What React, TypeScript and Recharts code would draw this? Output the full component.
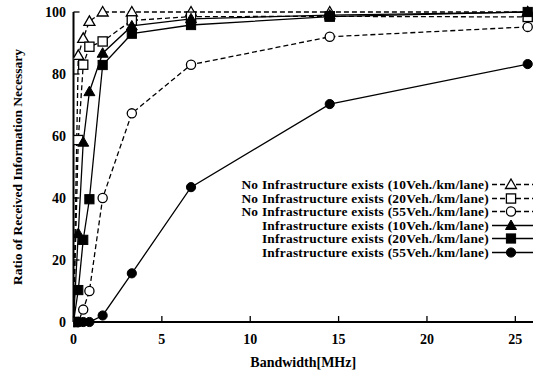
import React from 'react';
import { LineChart, Line, XAxis, YAxis, Legend, Label } from 'recharts';

// bandwidth values [MHz] shared by all six curves
const bandwidth = [0, 0.27, 0.55, 0.9, 1.65, 3.3, 6.65, 14.5, 25.7];

const noInfra10 = [0, 86, 91.5, 97, 100, 100, 100, 100, 100];
const noInfra20 = [0, 58.7, 83, 88.8, 90.5, 97.3, 98.5, 98.6, 98.4];
const noInfra55 = [0, 0, 4, 10, 40, 67.3, 83, 92, 95.2];
const infra10 = [0, 28.5, 58, 74.3, 86.7, 95.5, 97.8, 99, 100];
const infra20 = [0, 10.3, 26.5, 39.6, 82.9, 93, 95.8, 98.5, 100];
const infra55 = [0, 0, 0, 0, 2.1, 15.7, 43.5, 70.3, 83.2];

const xTicks = [0, 5, 10, 15, 20, 25];
const yTicks = [0, 20, 40, 60, 80, 100];

type Shape = 'triangle' | 'square' | 'circle';

const series: { key: string; name: string; dashed: boolean; shape: Shape; filled: boolean }[] = [
  { key: 'noInfra10', name: 'No Infrastructure exists (10Veh./km/lane)', dashed: true, shape: 'triangle', filled: false },
  { key: 'noInfra20', name: 'No Infrastructure exists (20Veh./km/lane)', dashed: true, shape: 'square', filled: false },
  { key: 'noInfra55', name: 'No Infrastructure exists (55Veh./km/lane)', dashed: true, shape: 'circle', filled: false },
  { key: 'infra10', name: 'Infrastructure exists (10Veh./km/lane)', dashed: false, shape: 'triangle', filled: true },
  { key: 'infra20', name: 'Infrastructure exists (20Veh./km/lane)', dashed: false, shape: 'square', filled: true },
  { key: 'infra55', name: 'Infrastructure exists (55Veh./km/lane)', dashed: false, shape: 'circle', filled: true },
];

const rows = bandwidth.map((bw, i) => ({
  bw,
  noInfra10: noInfra10[i],
  noInfra20: noInfra20[i],
  noInfra55: noInfra55[i],
  infra10: infra10[i],
  infra20: infra20[i],
  infra55: infra55[i],
}));

const FONT = '"Liberation Serif", "Times New Roman", serif';
const DASH = '5 3';

function Marker({ cx, cy, shape, filled }: { cx: number; cy: number; shape: Shape; filled: boolean }) {
  const fill = filled ? '#000' : '#fff';
  const sw = filled ? 1 : 1.3;
  if (shape === 'triangle') {
    const pts = `${cx},${cy - 5.5} ${cx + 5.5},${cy + 4} ${cx - 5.5},${cy + 4}`;
    return <polygon points={pts} fill={fill} stroke="#000" strokeWidth={sw} />;
  }
  if (shape === 'square') {
    return <rect x={cx - 4.6} y={cy - 4.6} width={9.2} height={9.2} fill={fill} stroke="#000" strokeWidth={sw} />;
  }
  return <circle cx={cx} cy={cy} r={4.6} fill={fill} stroke="#000" strokeWidth={sw} />;
}

function LegendBox() {
  return (
    <div style={{ fontFamily: FONT, fontWeight: 'bold', fontSize: 13.4, letterSpacing: 0.25, color: '#000' }}>
      {series.map((s) => (
        <div
          key={s.key}
          style={{ display: 'flex', justifyContent: 'flex-end', alignItems: 'center', height: 13.5, lineHeight: '13.5px' }}
        >
          <span style={{ whiteSpace: 'nowrap' }}>{s.name}</span>
          <svg width={42} height={13} style={{ marginLeft: 2, display: 'block' }}>
            <line x1={1} y1={6.5} x2={42} y2={6.5} stroke="#000" strokeWidth={1.3} strokeDasharray={s.dashed ? DASH : undefined} />
            <Marker cx={20} cy={6.5} shape={s.shape} filled={s.filled} />
          </svg>
        </div>
      ))}
    </div>
  );
}

export default function App() {
  const tickStyle = { fontFamily: FONT, fontWeight: 'bold', fontSize: 14, fill: '#000' };
  const axisLine = { stroke: '#000', strokeWidth: 2 };
  const tickLine = { stroke: '#000', strokeWidth: 1.3 };

  return (
    <div style={{ position: 'absolute', left: 0, top: 0, width: 541, height: 370, background: '#fff' }}>
      <LineChart width={541} height={370} data={rows} margin={{ top: 12, right: 8, bottom: 0, left: 33.5 }}>
        <XAxis
          dataKey="bw"
          type="number"
          domain={[0, 26]}
          ticks={xTicks}
          allowDataOverflow
          height={48}
          axisLine={axisLine}
          tickLine={tickLine}
          tickSize={-6}
          tickMargin={18}
          tick={tickStyle}
        >
          <Label
            value="Bandwidth[MHz]"
            position="insideBottom"
            offset={3}
            style={{ fontFamily: FONT, fontWeight: 'bold', fontSize: 14, fill: '#000' }}
          />
        </XAxis>
        <XAxis
          xAxisId="top"
          orientation="top"
          dataKey="bw"
          type="number"
          domain={[0, 26]}
          ticks={xTicks}
          allowDataOverflow
          height={0}
          axisLine={axisLine}
          tickLine={tickLine}
          tickSize={-6}
          tick={false}
        />
        <YAxis
          type="number"
          domain={[0, 100]}
          ticks={yTicks}
          width={40}
          axisLine={axisLine}
          tickLine={tickLine}
          tickSize={-6}
          tickMargin={13.5}
          tick={tickStyle}
        >
          <Label
            value="Ratio of Received Information Necessary"
            angle={-90}
            position="center"
            dx={-36}
            style={{ fontFamily: FONT, fontWeight: 'bold', fontSize: 13.5, fill: '#000', textAnchor: 'middle' }}
          />
        </YAxis>
        <YAxis
          yAxisId="right"
          orientation="right"
          type="number"
          domain={[0, 100]}
          ticks={yTicks}
          width={0}
          axisLine={axisLine}
          tickLine={tickLine}
          tickSize={-6}
          tick={false}
        />
        {series.map((s) => (
          <Line
            key={s.key}
            dataKey={s.key}
            name={s.name}
            type="linear"
            stroke="#000"
            strokeWidth={1.3}
            strokeDasharray={s.dashed ? DASH : undefined}
            isAnimationActive={false}
            dot={(p: any) => <Marker key={`${s.key}-${p.index}`} cx={p.cx} cy={p.cy} shape={s.shape} filled={s.filled} />}
            activeDot={false}
          />
        ))}
        <Legend
          layout="vertical"
          align="center"
          verticalAlign="middle"
          content={() => <LegendBox />}
          wrapperStyle={{ left: 190, top: 178, width: 343, height: 82 }}
        />
      </LineChart>
    </div>
  );
}
